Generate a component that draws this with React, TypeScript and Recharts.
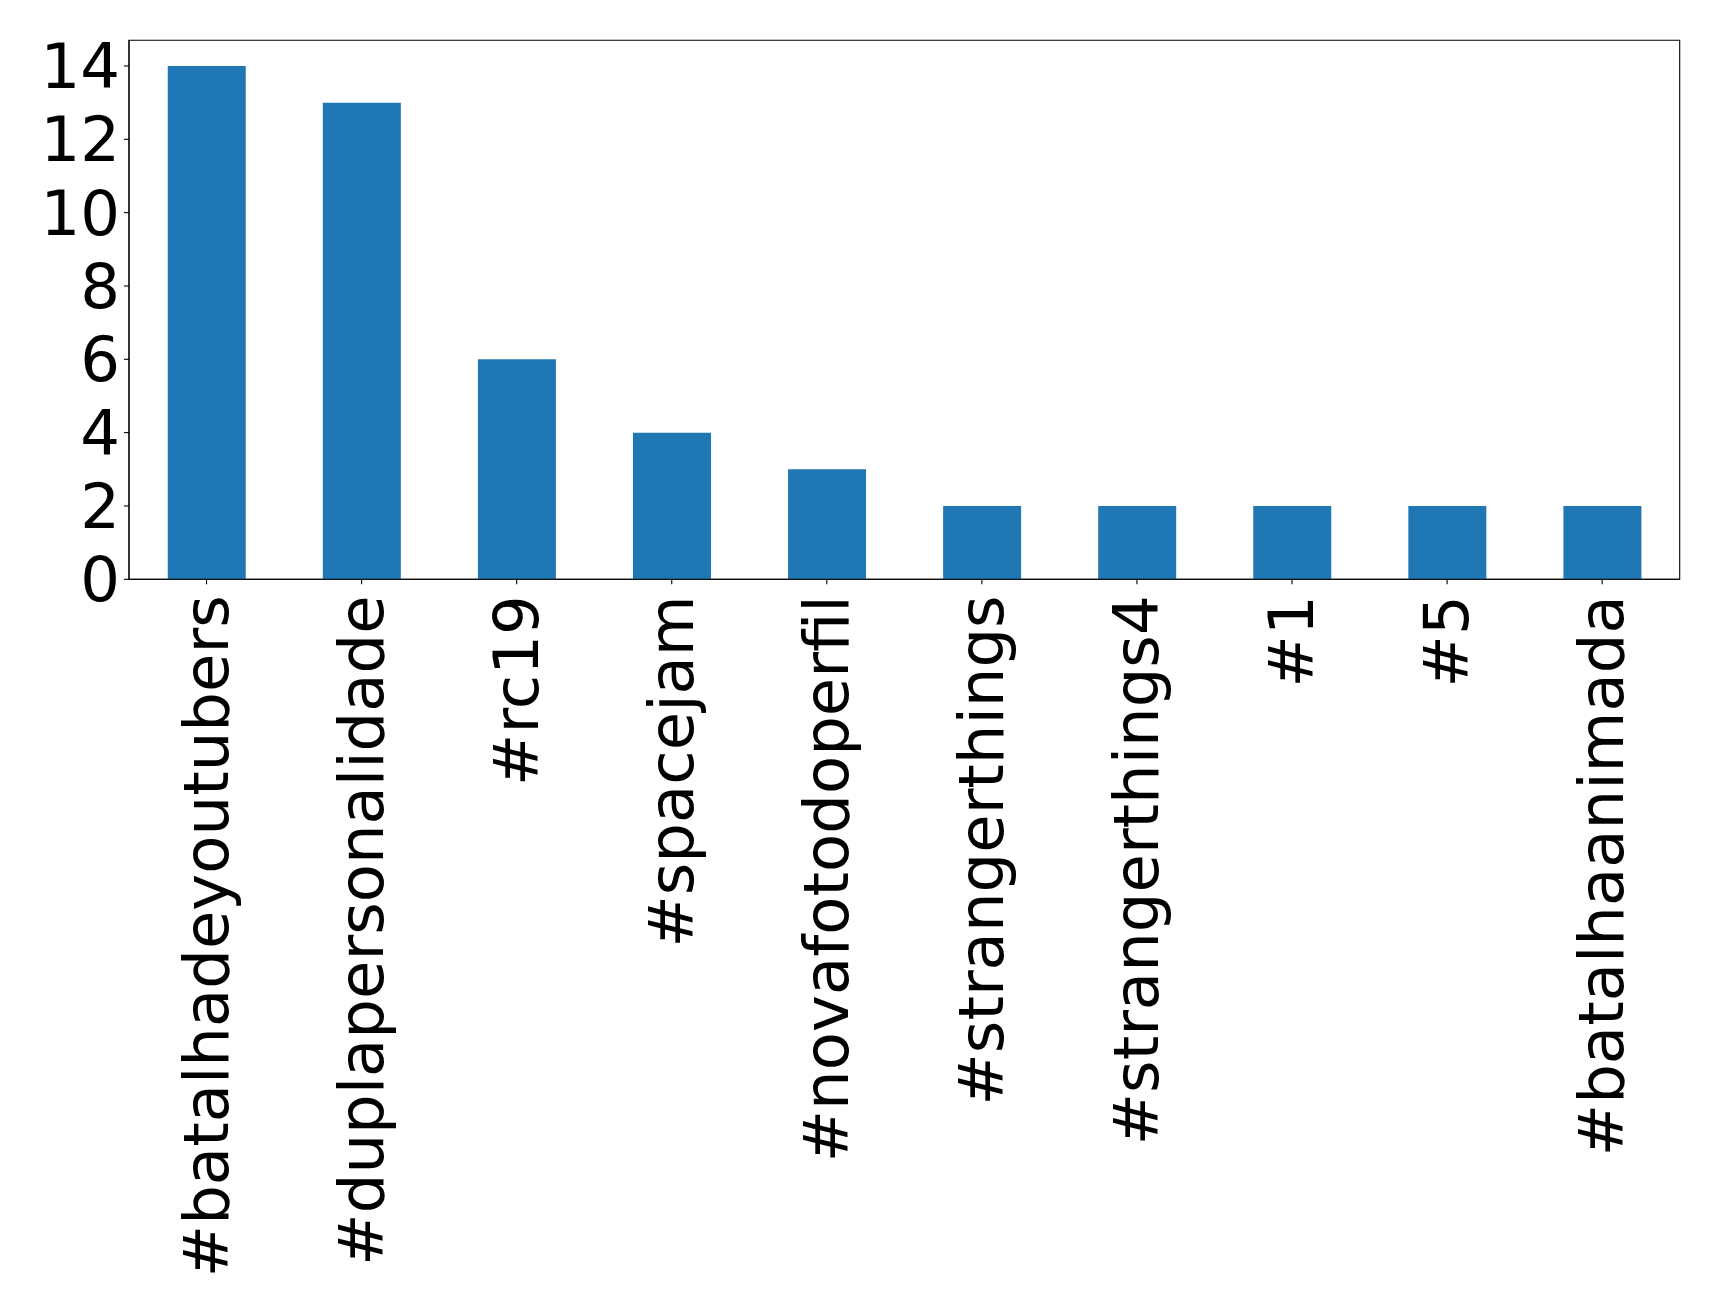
import React from 'react';
import { BarChart, Bar, XAxis, YAxis, ReferenceArea } from 'recharts';

const categories = ['#batalhadeyoutubers', '#duplapersonalidade', '#rc19', '#spacejam', '#novafotodoperfil', '#strangerthings', '#strangerthings4', '#1', '#5', '#batalhaanimada'];
const counts = [14, 13, 6, 4, 3, 2, 2, 2, 2, 2];
const yTicks = [0, 2, 4, 6, 8, 10, 12, 14];

const data = categories.map((c, i) => ({ tag: c, count: counts[i] }));

const FONT = 'DejaVu Sans';
const FS = 62.5;

const XTick = (props: any) => {
  const { x, y, payload } = props;
  return (
    <text
      x={x}
      y={y}
      transform={`rotate(-90, ${x}, ${y})`}
      textAnchor="end"
      dy="0.34em"
      fontFamily={FONT}
      fontSize={FS}
      fill="#000"
    >
      {payload.value}
    </text>
  );
};

export default function App() {
  return (
    <div style={{ position: 'absolute', left: 0, top: 0, background: '#fff' }}>
      <BarChart
        width={1719}
        height={1310}
        data={data}
        margin={{ top: 40.3, right: 39.3, bottom: 0, left: 0 }}
        barCategoryGap="25%"
      >
        <XAxis
          dataKey="tag"
          interval={0}
          height={730.7}
          tick={<XTick />}
          tickSize={5}
          tickMargin={11}
          stroke="#000"
          strokeWidth={1.1}
          tickLine={{ stroke: '#000', strokeWidth: 1.1 }}
        />
        <YAxis
          width={129}
          domain={[0, 14.7]}
          ticks={yTicks}
          interval={0}
          tickSize={5}
          tickMargin={4}
          stroke="#000"
          strokeWidth={1.1}
          tick={{ fontFamily: FONT, fontSize: FS, fill: '#000' }}
          tickLine={{ stroke: '#000', strokeWidth: 1.1 }}
        />
        <ReferenceArea
          y1={0}
          y2={14.7}
          fill="none"
          stroke="#000"
          strokeWidth={1.1}
          ifOverflow="visible"
        />
        <Bar dataKey="count" fill="#1f77b4" isAnimationActive={false} />
      </BarChart>
    </div>
  );
}
